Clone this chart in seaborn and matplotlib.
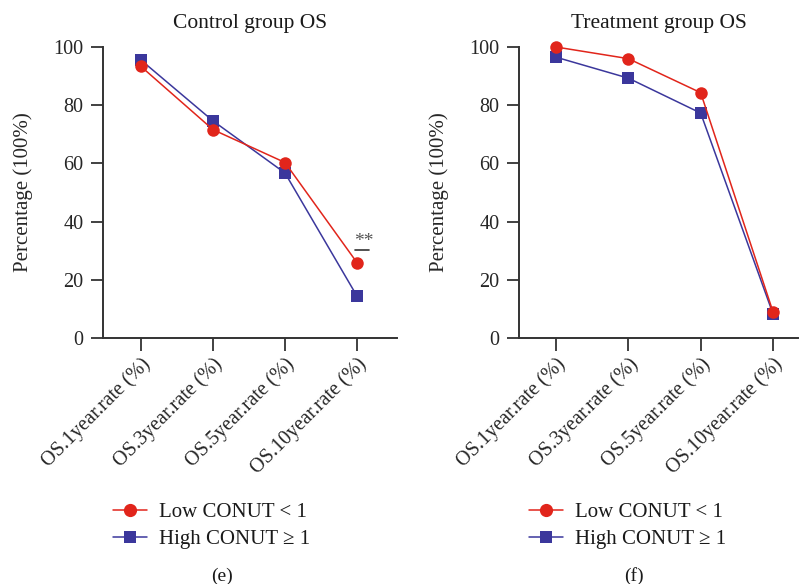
import numpy as np
import pandas as pd
import matplotlib
matplotlib.use("Agg")
import matplotlib.pyplot as plt
from matplotlib.lines import Line2D
import seaborn as sns

categories = ["OS.1year.rate (%)", "OS.3year.rate (%)", "OS.5year.rate (%)", "OS.10year.rate (%)"]
control_low = [93.3, 71.6, 60.3, 25.9]
control_high = [95.5, 74.6, 56.7, 14.4]
treat_low = [100.0, 96.0, 84.3, 9.0]
treat_high = [96.5, 89.3, 77.3, 8.3]
titles = ["Control group OS", "Treatment group OS"]
captions = ["(e)", "(f)"]
low_label = "Low CONUT < 1"
high_label = "High CONUT \u2265 1"
yticks = [0, 20, 40, 60, 80, 100]

RED = "#E1251B"
BLUE = "#3B379C"
SPINE = "#333333"

sns.set_theme(style="white")
plt.rcParams["font.family"] = ["Liberation Serif", "DejaVu Serif"]
plt.rcParams["text.color"] = "#1a1a1a"

fig = plt.figure(figsize=(8.03, 5.84), dpi=100)
W, H = 803, 584

def make_df(low, high):
    return pd.DataFrame({
        "time": categories * 2,
        "value": list(high) + list(low),
        "group": ["High"] * 4 + ["Low"] * 4,
    })

panels = [
    (control_low, control_high, (103, 397), (141, 357)),
    (treat_low, treat_high, (519, 798), (556, 773)),
]

axes = []
for i, (low, high, (xl, xr), (t0, t3)) in enumerate(panels):
    ax = fig.add_axes([xl / W, 1 - 338 / H, (xr - xl) / W, (338 - 47) / H])
    df = make_df(low, high)
    sns.lineplot(data=df, x="time", y="value", hue="group", style="group",
                 hue_order=["High", "Low"], style_order=["High", "Low"],
                 palette={"High": BLUE, "Low": RED},
                 markers={"High": "s", "Low": "o"}, dashes=False,
                 markersize=9, linewidth=1.1, markeredgewidth=0,
                 legend=False, ax=ax, sort=False)
    for ln in ax.lines:
        ln.set_clip_on(False)
        if ln.get_marker() == "s":
            ln.set_markersize(8.5)
    step = (t3 - t0) / 3
    ax.set_xlim(-(t0 - xl) / step, 3 + (xr - t3) / step)
    ax.set_ylim(0, 100)
    ax.set_yticks(yticks)
    ax.set_xticks(range(len(categories)))
    ax.set_xticklabels(categories, rotation=45, ha="right", rotation_mode="anchor", fontsize=14.5)
    ax.tick_params(axis="both", direction="out", length=9, width=1.3, color=SPINE,
                   pad=3, bottom=True, left=True)
    ax.tick_params(axis="y", labelsize=14.5, pad=5)
    for s in ["top", "right"]:
        ax.spines[s].set_visible(False)
    for s in ["left", "bottom"]:
        ax.spines[s].set_color(SPINE)
        ax.spines[s].set_linewidth(1.4)
    ax.set_xlabel("")
    ax.set_ylabel("Percentage (100%)", fontsize=15, labelpad=15)
    ax.set_title(titles[i], fontsize=15.5, pad=14)
    ax.grid(False)
    ax.set_facecolor("none")
    axes.append(ax)

# significance marker on control 10-year point
ax0 = axes[0]
ax0.text(3.1, control_low[3] + 4.5, "**", ha="center", va="bottom", fontsize=14, color="#555555")
ax0.plot([2.97, 3.17], [control_low[3] + 4.2] * 2, color="#333333", lw=1.2, clip_on=False)

handles = [
    Line2D([0], [0], color=RED, marker="o", markersize=9.5, markeredgewidth=0, lw=1.1),
    Line2D([0], [0], color=BLUE, marker="s", markersize=8.5, markeredgewidth=0, lw=1.1),
]
for i, xpos in enumerate([103, 519]):
    fig.legend(handles, [low_label, high_label], loc="upper left",
               bbox_to_anchor=((xpos + 2) / W, 1 - 494 / H), frameon=False,
               fontsize=15, handlelength=1.6, handletextpad=0.6, labelspacing=0.38,
               borderaxespad=0)

fig.text(222 / W, 1 - 576 / H, captions[0], ha="center", va="center", fontsize=14)
fig.text(634 / W, 1 - 576 / H, captions[1], ha="center", va="center", fontsize=14)

fig.savefig("out.png", dpi=100)
